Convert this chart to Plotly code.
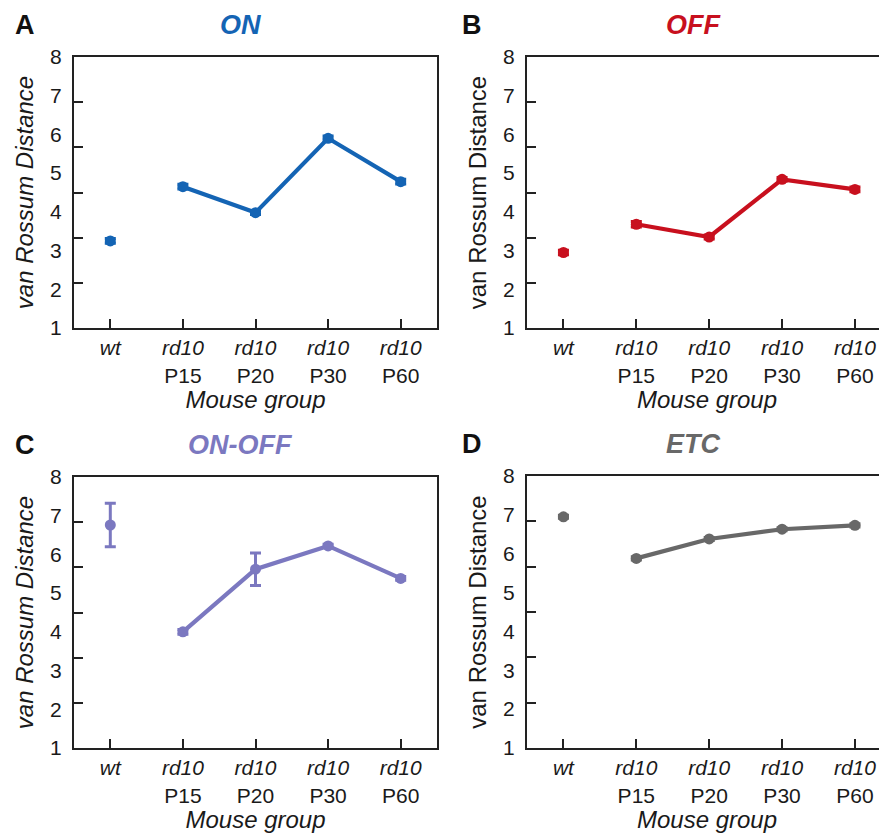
import plotly.graph_objects as go

# The page body adds an 8px margin, so the figure is sized to fill the rest of the window.
OFF = 8
W, H = 887 - OFF, 835 - OFF

groups = ["wt", "rd10 P15", "rd10 P20", "rd10 P30", "rd10 P60"]
tick_text = ["<i>wt</i>", "<i>rd10</i><br>P15", "<i>rd10</i><br>P20",
             "<i>rd10</i><br>P30", "<i>rd10</i><br>P60"]
y_ticks = [1, 2, 3, 4, 5, 6, 7, 8]

on_vals = [3.25, 4.65, 3.98, 5.90, 4.78]
on_err = [0.06, 0.06, 0.05, 0.06, 0.06]
off_vals = [2.95, 3.68, 3.35, 4.84, 4.58]
off_err = [0.06, 0.07, 0.05, 0.05, 0.06]
onoff_vals = [6.76, 4.00, 5.62, 6.22, 5.38]
onoff_err = [0.56, 0.06, 0.42, 0.04, 0.05]
etc_vals = [6.95, 5.88, 6.38, 6.63, 6.73]
etc_err = [0.04, 0.04, 0.04, 0.04, 0.04]

panels = [
    dict(letter="A", title="ON", color="#1464b4", vals=on_vals, err=on_err,
         px=(74, 437), py=(57, 328), italic_y=True, full_box=True, lx=25),
    dict(letter="B", title="OFF", color="#c8101e", vals=off_vals, err=off_err,
         px=(527, 887), py=(57, 328), italic_y=False, full_box=False, lx=472),
    dict(letter="C", title="ON-OFF", color="#7b78c0", vals=onoff_vals, err=onoff_err,
         px=(74, 437), py=(477, 748), italic_y=True, full_box=True, lx=25),
    dict(letter="D", title="ETC", color="#686868", vals=etc_vals, err=etc_err,
         px=(527, 887), py=(476, 748), italic_y=False, full_box=False, lx=472),
]


def fx(px):
    return (px - OFF) / W


def fy(py):
    return 1 - (py - OFF) / H


FONT = "Liberation Sans, Arial, sans-serif"
fig = go.Figure()
layout = dict(
    width=W, height=H, margin=dict(l=0, r=0, t=0, b=0, autoexpand=False),
    paper_bgcolor="white", plot_bgcolor="white", showlegend=False,
    font=dict(family=FONT, color="#1a1a1a"),
)
annotations = []

for i, p in enumerate(panels):
    n = i + 1
    xa = "x" if n == 1 else f"x{n}"
    ya = "y" if n == 1 else f"y{n}"
    yt = f"y{n + 4}"
    xkey = "xaxis" if n == 1 else f"xaxis{n}"
    ykey = "yaxis" if n == 1 else f"yaxis{n}"
    tick_key = f"yaxis{n + 4}"
    xdom = [fx(p["px"][0]), min(1.0, fx(p["px"][1]))]
    ydom = [fy(p["py"][1]), fy(p["py"][0])]
    xr = [-0.5, 4.5] if p["full_box"] else [-0.5, 4.44]

    xi = list(range(len(groups)))
    # empty trace so the tick-mark overlay axis is drawn
    fig.add_trace(go.Scatter(x=[], y=[], xaxis=xa, yaxis=yt, hoverinfo="skip",
                             showlegend=False))
    # wt point alone
    fig.add_trace(go.Scatter(
        x=[xi[0]], y=[p["vals"][0]], xaxis=xa, yaxis=ya, mode="markers",
        marker=dict(color=p["color"], size=11),
        error_y=dict(type="data", array=[p["err"][0]], color=p["color"],
                     thickness=3, width=5.5),
        cliponaxis=False))
    # rd10 line
    fig.add_trace(go.Scatter(
        x=xi[1:], y=p["vals"][1:], xaxis=xa, yaxis=ya, mode="lines+markers",
        line=dict(color=p["color"], width=4.2),
        marker=dict(color=p["color"], size=11),
        error_y=dict(type="data", array=p["err"][1:], color=p["color"],
                     thickness=3, width=5.5),
        cliponaxis=False))

    layout[xkey] = dict(
        domain=xdom, anchor=ya, range=xr, tickmode="array", tickvals=xi,
        ticktext=tick_text, ticks="inside", ticklen=9, tickwidth=1.5,
        tickcolor="#222", showline=True, linewidth=2, linecolor="#222",
        mirror=True, showgrid=False, zeroline=False, automargin=False,
        tickfont=dict(size=21, family=FONT, color="#1a1a1a"),
        title=dict(text="<i>Mouse group</i>", standoff=3,
                   font=dict(size=24, family=FONT, color="#1a1a1a")),
    )
    ytitle = "<i>van Rossum Distance</i>" if p["italic_y"] else "van Rossum Distance"
    layout[ykey] = dict(
        domain=ydom, anchor=xa, range=[1, 8], tickmode="array", tickvals=y_ticks,
        ticks="", showline=True, linewidth=2, linecolor="#222",
        mirror=p["full_box"], showgrid=False, zeroline=False, automargin=False,
        ticklabelstandoff=6,
        tickfont=dict(size=21, family=FONT, color="#1a1a1a"),
        title=dict(text=ytitle, standoff=10,
                   font=dict(size=24, family=FONT, color="#1a1a1a")),
    )
    # tick marks overlay (six equal intervals as in the original figure)
    layout[tick_key] = dict(
        overlaying=ya, anchor=xa, side="left", range=[0, 6], dtick=1,
        tickmode="linear", tick0=0, ticks="inside", ticklen=9, tickwidth=1.5,
        tickcolor="#222", showticklabels=False, showline=False,
        showgrid=False, zeroline=False, automargin=False,
    )

    annotations.append(dict(
        text=f"<b><i>{p['title']}</i></b>", x=fx(p["px"][0] + 166),
        y=fy(p["py"][0] - 32),
        xref="paper", yref="paper", showarrow=False, xanchor="center", yanchor="middle",
        font=dict(size=27, family=FONT, color=p["color"])))
    annotations.append(dict(
        text=f"<b>{p['letter']}</b>", x=fx(p["lx"]),
        y=fy(p["py"][0] - 32), xref="paper", yref="paper", showarrow=False,
        xanchor="center", yanchor="middle",
        font=dict(size=27, family=FONT, color="#111")))

layout["annotations"] = annotations
fig.update_layout(**layout)
fig.write_html("out.html")
